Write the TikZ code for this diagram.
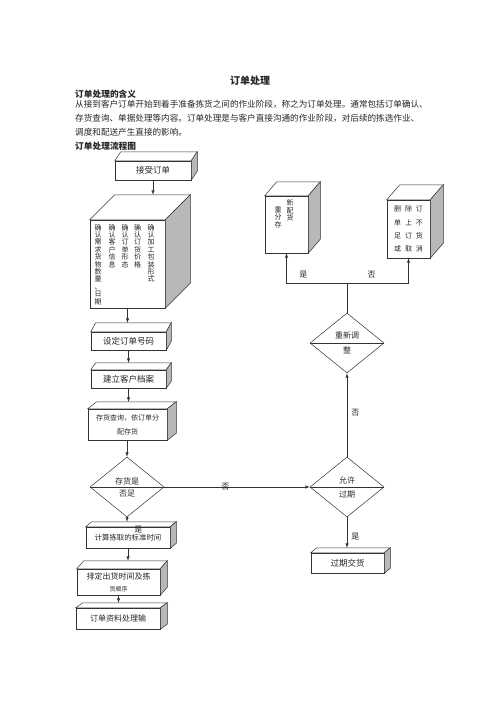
\documentclass[tikz,border=0pt]{standalone}
\usepackage{fontspec}
\setmainfont{Noto Sans CJK SC}
\usetikzlibrary{calc,shapes}
% top and side faces of a box, plus a coordinate on its back top edge
\newcommand{\boxsides}[3]{%
  \filldraw[boxline,fill=white] (#1.north west) -- ++(#2,#3) -- ($(#1.north east)+(#2,#3)$) -- (#1.north east) -- cycle;
  \filldraw[boxline,fill=black!28] (#1.north east) -- ++(#2,#3) -- ($(#1.south east)+(#2,#3)$) -- (#1.south east) -- cycle;
  \coordinate (#1-top) at ($(#1.north)+(#2,#3)$);
}
\newcommand{\cgap}{\hspace{4pt}}
\tikzset{%
  boxline/.style={draw=black!80,line width=0.5pt},
  frontbox/.style={rectangle,draw=black!80,fill=white,line width=0.5pt,inner sep=1pt,
    align=center,text=black!85,font=\fontsize{8.5}{10}\selectfont},
  decision/.style={diamond,draw=black!80,fill=white,line width=0.5pt,inner sep=0pt,
    minimum width=74pt,minimum height=60pt,align=center,text=black!85,
    font=\fontsize{8}{12}\selectfont},
  vcol/.style={anchor=north,align=center,inner sep=0pt,text=black!85,
    font=\fontsize{7}{7.4}\selectfont},
  flowline/.style={draw=black!80,line width=0.5pt,-latex},
  flowlabel/.style={inner sep=1pt,text=black!85,font=\fontsize{8}{9}\selectfont},
  textline/.style={anchor=west,inner sep=0pt,text=black!85,font=\fontsize{8.6}{10}\selectfont}
}
\begin{document}
\begin{tikzpicture}[x=1pt,y=-1pt]
  \fill[white] (0,0) rectangle (500,707);
  \useasboundingbox (0,0) rectangle (500,707);

  % text above the chart
  \node[textline,anchor=center,font=\fontsize{10}{12}\selectfont\bfseries] (title) at (250,81) {订单处理};
  \node[textline,font=\fontsize{8.7}{10}\selectfont\bfseries] (meaning) at (75,94) {订单处理的含义};
  \node[textline] (para1) at (75,104.5) {从接到客户订单开始到着手准备拣货之间的作业阶段，称之为订单处理。通常包括订单确认、};
  \node[textline] (para2) at (75,118.5) {存货查询、单据处理等内容。订单处理是与客户直接沟通的作业阶段，对后续的拣选作业、};
  \node[textline] (para3) at (75,132.5) {调度和配送产生直接的影响。};
  \node[textline,font=\fontsize{8.7}{10}\selectfont\bfseries] (chart) at (75,146) {订单处理流程图};

  % left column
  \node[frontbox,minimum width=76pt,minimum height=19pt] (accept) at (153,170.5) {接受订单};
  \boxsides{accept}{6}{-9}
  \node[frontbox,minimum width=75pt,minimum height=88pt] (confirm) at (127.5,264) {};
  \boxsides{confirm}{25}{-25}
  \node[vcol] (need)  at (98,224)  {确\\认\\需\\求\\货\\物\\数\\量\\、\\日\\期};
  \node[vcol] (cust)  at (112,224) {确\\认\\客\\户\\信\\息};
  \node[vcol] (form)  at (125,224) {确\\认\\订\\单\\形\\态};
  \node[vcol] (price) at (137.5,224) {确\\认\\订\\货\\价\\格};
  \node[vcol] (pack)  at (151,224) {确\\认\\加\\工\\包\\装\\形\\式};

  \node[frontbox,minimum width=75pt,minimum height=18pt] (setno) at (128.5,341) {设定订单号码};
  \boxsides{setno}{5}{-9}
  \node[frontbox,minimum width=75pt,minimum height=18pt] (archive) at (128.5,379) {建立客户档案};
  \boxsides{archive}{5}{-7}
  \node[frontbox,minimum width=79pt,minimum height=31pt,font=\fontsize{7}{14}\selectfont] (stock) at (127.5,424.5) {存货查询，依订单分\\配存货};
  \boxsides{stock}{9}{-7}
  \node[decision] (enough) at (127,487) {存货是\\否足};
  \draw[boxline] (enough.west) -- (enough.east);

  \node[frontbox,minimum width=84pt,minimum height=21pt,font=\fontsize{7.4}{9}\selectfont] (calc) at (128,537.5) {计算拣取的标准时间};
  \boxsides{calc}{6}{-5}
  \node[frontbox,minimum width=83pt,minimum height=26pt,font=\fontsize{8}{12}\selectfont] (sched) at (118.5,582) {排定出货时间及拣\\{\fontsize{6}{6}\selectfont 货顺序}};
  \boxsides{sched}{7}{-8}
  \node[frontbox,minimum width=84pt,minimum height=21pt,font=\fontsize{8}{9}\selectfont] (output) at (118,618.5) {订单资料处理输};
  \boxsides{output}{7}{-5}

  % right column
  \node[decision] (allow) at (347,487) {允许\\[2pt]过期};
  \draw[boxline] (allow.west) -- (allow.east);
  \node[frontbox,minimum width=73pt,minimum height=20pt] (late) at (347.5,563) {过期交货};
  \boxsides{late}{6}{-5}
  \node[decision] (adjust) at (347,343) {重新调\\[3pt]整};
  \draw[boxline] (adjust.west) -- (adjust.east);

  \node[frontbox,minimum width=43pt,minimum height=57pt] (redist) at (286.5,224.5) {};
  \boxsides{redist}{12}{-14}
  \node[vcol] (redistl) at (278,206.5) {重\\分\\存};
  \node[vcol] (redistr) at (290,199.5) {新\\配\\货};
  \node[frontbox,minimum width=43pt,minimum height=58pt,font=\fontsize{7}{13.2}\selectfont] (cancel) at (408.5,229) {删\cgap 除\cgap 订\\单\cgap 上\cgap 不\\足\cgap 订\cgap 货\\或\cgap 取\cgap 消};
  \boxsides{cancel}{13}{-15}
  \coordinate (split) at (347,283);

  % connectors
  \draw[flowline] (accept.south) -- (accept.south |- confirm-top);
  \draw[flowline] (confirm.south) -- (confirm.south |- setno-top);
  \draw[flowline] (setno.south) -- (setno.south |- archive-top);
  \draw[flowline] (archive.south) -- (archive.south |- stock-top);
  \draw[flowline] (enough.north |- stock.south) -- (enough.north);
  \draw[flowline] (enough.east) -- (allow.west) node[flowlabel,pos=0.42] (no1) {否};
  \draw[flowline] (enough.south) -- (enough.south |- calc-top) node[flowlabel,at end,anchor=north west,xshift=6pt,yshift=-3pt] (yes1) {是};
  \draw[flowline] (calc.south) -- (calc.south |- sched-top);
  \draw[flowline] (sched.south) -- (sched.south |- output-top);
  \draw[flowline] (allow.north) -- (adjust.south) node[flowlabel,pos=0.53,right=3pt] (no2) {否};
  \draw[flowline] (allow.south) -- (allow.south |- late-top) node[flowlabel,pos=0.65,right=3pt] (yes2) {是};
  \draw[boxline] (adjust.north) -- (split);
  \draw[flowline] (split) -| (redist.south) node[flowlabel,pos=0.36,above=4pt] (yes3) {是};
  \draw[flowline] (split) -| (cancel.south) node[flowlabel,pos=0.2,above=4pt] (no3) {否};
\end{tikzpicture}
\end{document}
